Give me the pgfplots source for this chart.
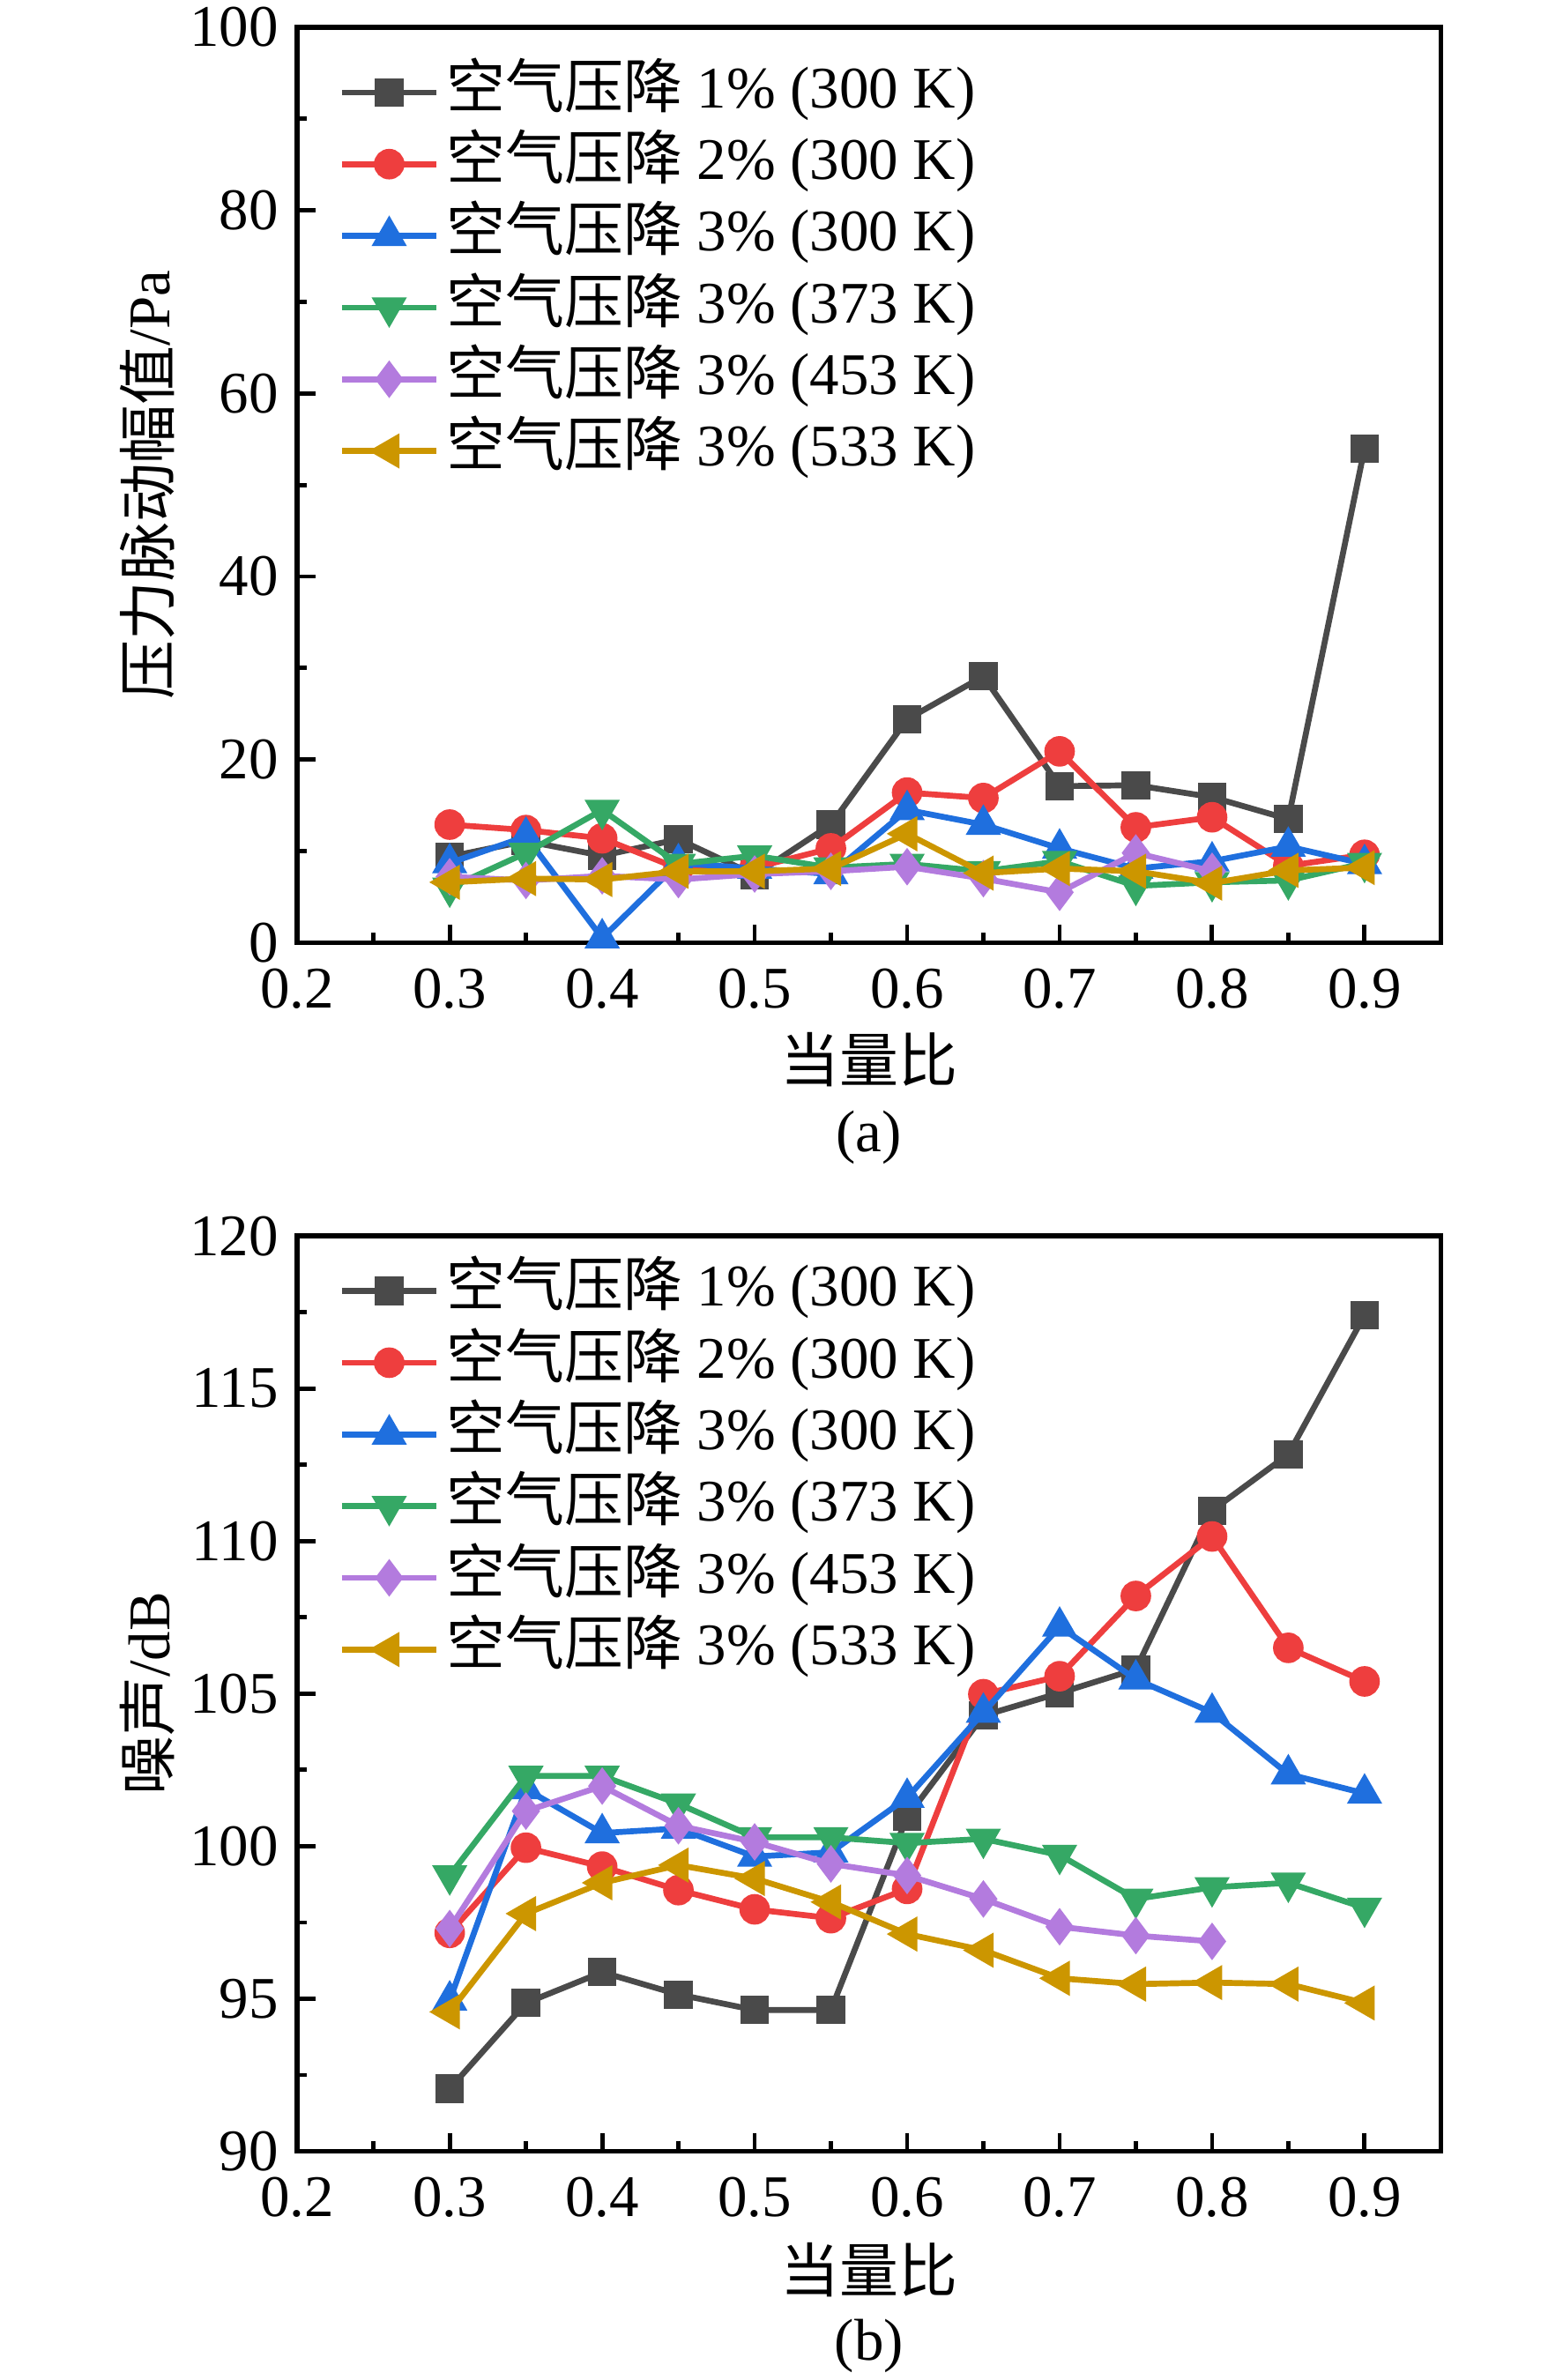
\documentclass[border=0pt]{standalone}
\usepackage{fontspec}
\setmainfont{Liberation Serif}
\newfontfamily\cjk{Noto Sans CJK SC}
\usepackage{pgfplots}
\usepackage{pgfplotstable}
\pgfplotsset{compat=1.18}
\definecolor{cK}{HTML}{4A4A4A}
\definecolor{cR}{HTML}{EE3E3E}
\definecolor{cB}{HTML}{1F6FDE}
\definecolor{cG}{HTML}{35A865}
\definecolor{cP}{HTML}{B37BDE}
\definecolor{cY}{HTML}{CC9600}

\pgfplotstableread{
x K R B G Y
0.30 9.4 12.9 8.7 6.0 6.6
0.35 11.1 12.3 11.6 9.8 7.0
0.40 9.5 11.4 0.5 14.5 6.9
0.45 11.3 8.1 8.7 8.6 7.8
0.50 7.4 8.2 8.1 9.5 7.8
0.55 12.9 10.3 7.5 8.2 8.1
0.60 24.4 16.4 14.5 8.6 11.9
0.65 29.1 15.8 12.9 7.8 7.6
0.70 17.1 20.9 10.3 8.9 8.1
0.75 17.2 12.6 8.1 6.2 7.8
0.80 15.9 13.7 8.9 6.6 6.5
0.85 13.5 8.4 10.5 6.8 7.9
0.90 54.0 9.6 8.6 8.7 8.2
}\tabA
\pgfplotstableread{
x P
0.30 7.2
0.35 6.8
0.40 7.3
0.45 6.9
0.50 7.5
0.55 7.8
0.60 8.3
0.65 7.0
0.70 5.5
0.75 9.8
0.80 7.8
}\tabAP
\pgfplotstableread{
x K R B G Y
0.30 92.05 97.16 94.95 99.04 94.57
0.35 94.86 99.95 101.87 102.30 97.79
0.40 95.87 99.33 100.43 102.30 98.80
0.45 95.14 98.56 100.58 101.39 99.38
0.50 94.63 97.93 99.66 100.29 98.94
0.55 94.63 97.64 99.80 100.29 98.17
0.60 100.96 98.60 101.59 100.10 97.12
0.65 104.28 104.98 104.38 100.24 96.59
0.70 105.02 105.57 107.20 99.71 95.67
0.75 105.80 108.20 105.47 98.27 95.48
0.80 111.00 110.15 104.38 98.65 95.53
0.85 112.84 106.50 102.36 98.80 95.48
0.90 117.40 105.40 101.73 97.98 94.86
}\tabB
\pgfplotstableread{
x P
0.30 97.30
0.35 101.15
0.40 101.97
0.45 100.67
0.50 100.14
0.55 99.42
0.60 99.04
0.65 98.27
0.70 97.36
0.75 97.07
0.80 96.88
}\tabBP

\pgfplotsset{
  myax/.style={
    scale only axis, width=74.95mm, height=60.0mm,
    anchor=north west,
    xmin=0.2, xmax=0.95,
    xtick={0.2,0.3,0.4,0.5,0.6,0.7,0.8,0.9},
    minor x tick num=1, minor y tick num=1,
    tick align=inside, xtick pos=bottom, ytick pos=left,
    major tick length=1.2mm, minor tick length=0.65mm,
    tick style={black, line width=0.8pt},
    axis line style={line width=0.9pt},
    font=\fontsize{11}{13}\selectfont,
    /pgf/number format/assume math mode=true,
    xticklabel style={yshift=-0.45mm, /pgf/number format/.cd, fixed, fixed zerofill, precision=1},
    yticklabel style={/pgf/number format/.cd, fixed, precision=0},
    clip mode=individual,
    legend cell align=left,
    legend style={draw=none, fill=none, inner sep=0pt, outer sep=0pt,
      anchor=north west, row sep=0pt,
      nodes={inner sep=0.45mm, text height=2.9mm, text depth=0.9mm},
      font=\fontsize{11}{13}\selectfont},
    legend image code/.code={\draw[mark repeat=2,mark phase=2] plot coordinates {(0mm,0mm) (3.1mm,0mm) (6.2mm,0mm)};},
    xlabel style={at={(axis description cs:0.5,-0.128)}, anchor=center},
    ylabel style={at={(axis description cs:-0.131,0.5)}, anchor=center, rotate=0},
  },
  sK/.style={color=cK, line width=1.1pt, mark=square*, mark size=2.1pt, mark options={solid, fill=cK}},
  sR/.style={color=cR, line width=1.1pt, mark=*, mark size=2.3pt, mark options={solid, fill=cR}},
  sB/.style={color=cB, line width=1.1pt, mark=triangle*, mark size=2.7pt, mark options={solid, fill=cB}},
  sG/.style={color=cG, line width=1.1pt, mark=triangle*, mark size=2.7pt, mark options={solid, fill=cG, rotate=180}},
  sP/.style={color=cP, line width=1.1pt, mark=diamond*, mark size=2.6pt, mark options={solid, fill=cP}},
  sY/.style={color=cY, line width=1.1pt, mark=triangle*, mark size=2.7pt, mark options={solid, fill=cY, rotate=90}},
}

\begin{document}
\begin{tikzpicture}
\useasboundingbox (0,0) rectangle (102.4mm,-156mm);

\begin{axis}[myax, at={(19.48mm,-1.79mm)},
  ymin=0, ymax=100, ytick={0,20,40,60,80,100},
  xlabel={{\cjk 当量比}}, ylabel={{\cjk 压力脉动幅值}/Pa},
  legend style={at={(axis description cs:0.0365,0.968)}},
]
\addplot[sK] table[x=x,y=K] {\tabA};
\addlegendentry{{\cjk 空气压降} 1\% (300 K)}
\addplot[sR] table[x=x,y=R] {\tabA};
\addlegendentry{{\cjk 空气压降} 2\% (300 K)}
\addplot[sB] table[x=x,y=B] {\tabA};
\addlegendentry{{\cjk 空气压降} 3\% (300 K)}
\addplot[sG] table[x=x,y=G] {\tabA};
\addlegendentry{{\cjk 空气压降} 3\% (373 K)}
\addplot[sP] table[x=x,y=P] {\tabAP};
\addlegendentry{{\cjk 空气压降} 3\% (453 K)}
\addplot[sY] table[x=x,y=Y] {\tabA};
\addlegendentry{{\cjk 空气压降} 3\% (533 K)}
\node[anchor=center] at (rel axis cs:0.5,-0.213) {(a)};
\end{axis}

\begin{axis}[myax, at={(19.48mm,-81.01mm)},
  ymin=90, ymax=120, ytick={90,95,100,105,110,115,120},
  xlabel={{\cjk 当量比}}, ylabel={{\cjk 噪声}/dB},
  xlabel style={at={(axis description cs:0.5,-0.130)}},
  legend style={at={(axis description cs:0.0365,0.979)}},
]
\addplot[sK] table[x=x,y=K] {\tabB};
\addlegendentry{{\cjk 空气压降} 1\% (300 K)}
\addplot[sR] table[x=x,y=R] {\tabB};
\addlegendentry{{\cjk 空气压降} 2\% (300 K)}
\addplot[sB] table[x=x,y=B] {\tabB};
\addlegendentry{{\cjk 空气压降} 3\% (300 K)}
\addplot[sG] table[x=x,y=G] {\tabB};
\addlegendentry{{\cjk 空气压降} 3\% (373 K)}
\addplot[sP] table[x=x,y=P] {\tabBP};
\addlegendentry{{\cjk 空气压降} 3\% (453 K)}
\addplot[sY] table[x=x,y=Y] {\tabB};
\addlegendentry{{\cjk 空气压降} 3\% (533 K)}
\node[anchor=center] at (rel axis cs:0.5,-0.213) {(b)};
\end{axis}
\end{tikzpicture}
\end{document}
